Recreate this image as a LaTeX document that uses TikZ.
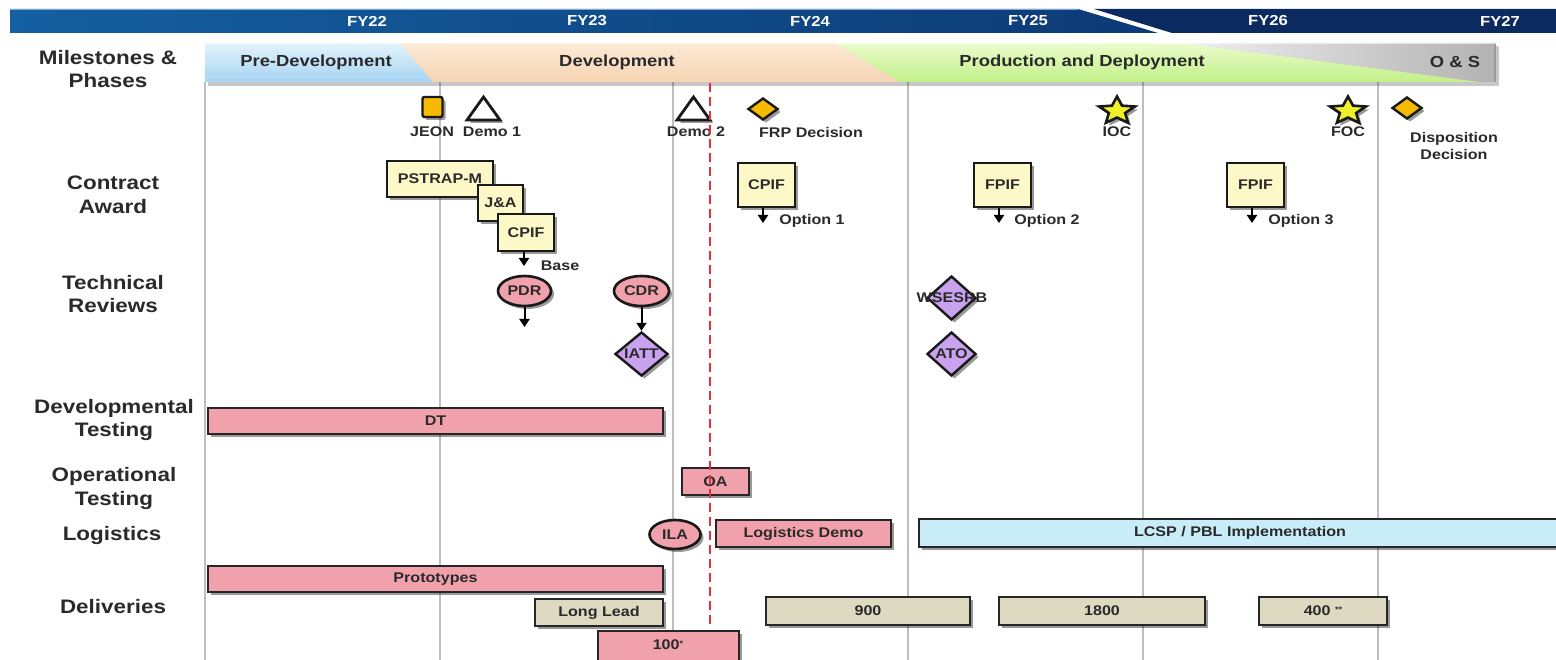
\documentclass[tikz,border=0pt]{standalone}
\usepackage{fontspec}
\setmainfont{Liberation Sans}[FakeStretch=1.15]
\usetikzlibrary{shapes.geometric,arrows.meta,shadows}
\definecolor{txt}{RGB}{42,42,42}
\definecolor{pinkf}{RGB}{241,161,171}
\definecolor{beigef}{RGB}{222,217,193}
\definecolor{yelbox}{RGB}{253,248,200}
\definecolor{lav}{RGB}{200,162,238}
\definecolor{orng}{RGB}{246,186,0}
\definecolor{staryel}{RGB}{240,240,40}
\definecolor{lblue}{RGB}{201,236,249}
\definecolor{barA}{RGB}{20,96,162}
\definecolor{barB}{RGB}{12,58,118}
\definecolor{navy}{RGB}{10,42,96}
\definecolor{predevT}{RGB}{226,243,252}
\definecolor{predevB}{RGB}{166,212,242}
\definecolor{devT}{RGB}{252,234,214}
\definecolor{devB}{RGB}{246,212,178}
\definecolor{prodT}{RGB}{234,252,204}
\definecolor{prodB}{RGB}{194,240,136}
\definecolor{gridc}{RGB}{190,190,190}
\definecolor{redd}{RGB}{228,48,60}
\newcommand\rowf{\fontsize{19.5}{23.5}\selectfont\bfseries}
\newcommand\phf{\fontsize{16}{19}\selectfont\bfseries}
\newcommand\fyf{\fontsize{14.5}{17}\selectfont\bfseries}
\newcommand\smf{\fontsize{14}{17}\selectfont\bfseries}
\newcommand\supast[1]{\raisebox{3.5pt}{\fontsize{8}{8}\selectfont #1}}
\tikzset{
  shad/.style={drop shadow={shadow xshift=3pt,shadow yshift=-3pt,opacity=.4,fill=black}},
  rowlab/.style={font=\rowf,text=txt,align=center,inner sep=0},
  mlab/.style={font=\smf,text=txt,align=center,inner sep=0},
  fylab/.style={font=\fyf,text=white,inner sep=0},
  phlab/.style={font=\phf,text=txt,inner sep=0},
  gridline/.style={draw=gridc,line width=1.3pt},
  cbox/.style={draw=black!90,line width=2.8pt,fill=yelbox,shad,font=\smf,text=txt,inner sep=0},
  bar/.style={draw=black!85,line width=2.8pt,shad,font=\smf,text=txt,inner sep=0},
  ell/.style={ellipse,draw=black!90,line width=2.6pt,fill=pinkf,shad,inner sep=0},
  dmd/.style={diamond,draw=black!90,line width=2.4pt,fill=lav,shad,inner sep=0},
  odmd/.style={diamond,draw=black!90,line width=2.4pt,fill=orng,shad,inner sep=0,minimum width=30,minimum height=22},
  tri/.style={draw=black!90,line width=2.8pt,fill=white,line join=miter},
  starsym/.style={star,star points=5,star point ratio=2.2,draw=black!90,line width=2.6pt,fill=staryel,shad,inner sep=0,minimum size=29,xscale=1.3,transform shape},
  arr/.style={line width=2pt,black,-{Triangle[width=10pt,length=8pt]}},
}
\begin{document}
\begin{tikzpicture}[x=1pt,y=-1pt]
\useasboundingbox (0,0) rectangle (1556,660);
\clip (0,0) rectangle (1556,660);
\fill[white] (0,0) rectangle (1556,660);

% ---------- top fiscal-year bar ----------
\shade[left color=barA,right color=barB] (10,9) -- (1078,9) -- (1158,33) -- (10,33) -- cycle;
\fill[navy] (1094,9) -- (1560,9) -- (1560,33) -- (1172,33) -- cycle;
\draw[barA!55!white,line width=0.8pt] (10,9.5) -- (1078,9.5);
\node[fylab] (fy22) at (367,21) {FY22};
\node[fylab] (fy23) at (587,21) {FY23};
\node[fylab] (fy24) at (810,21) {FY24};
\node[fylab] (fy25) at (1028,21) {FY25};
\node[fylab] (fy26) at (1268,21) {FY26};
\node[fylab] (fy27) at (1500,21) {FY27};

% ---------- grid lines ----------
\foreach \gx in {205,440,673,908,1143,1378}
  \draw[gridline] (\gx,82) -- (\gx,660);

% ---------- phase banner ----------
\fill[black,opacity=.22] (208,46) rectangle (1499,86);
\shade[top color=predevT,bottom color=predevB] (205,43) -- (400,43) -- (433,82) -- (205,82) -- cycle;
\shade[top color=devT,bottom color=devB] (400,43) -- (836,43) -- (900,82) -- (433,82) -- cycle;
\shade[top color=prodT,bottom color=prodB] (836,43) -- (1183,43) -- (1480,82) -- (900,82) -- cycle;
\shade[left color=black!6,right color=black!30] (1183,43) -- (1495,43) -- (1495,82) -- (1480,82) -- cycle;
\draw[black!40,line width=2pt] (1495,44) -- (1495,82);
\draw[white,opacity=.6,line width=1pt] (206,43.5) -- (1494,43.5);
\node[phlab] (pPre) at (316,62) {Pre-Development};
\node[phlab] (pDev) at (617,62) {Development};
\node[phlab] (pPro) at (1082,62) {Production and Deployment};
\node[phlab] (pOS) at (1455,62) {O \& S};

% ---------- row labels ----------
\node[rowlab] (rMil) at (108,69) {Milestones \&\\Phases};
\node[rowlab] (rCon) at (113,195) {Contract\\Award};
\node[rowlab] (rTec) at (113,294) {Technical\\Reviews};
\node[rowlab] (rDev) at (114,420) {Developmental\\Testing};
\node[rowlab] (rOpe) at (114,488.5) {Operational\\Testing};
\node[rowlab] (rLog) at (112,535) {Logistics};
\node[rowlab] (rDel) at (113,607) {Deliveries};

% ---------- milestones ----------
\node[draw=black!90,line width=2.4pt,fill=orng,rounded corners=2pt,minimum size=20,inner sep=0,shad] (jeon) at (432.5,107) {};
\node[mlab] (jeonL) at (432,132) {JEON};
\path[tri,shad] (483.5,97) -- (500,120) -- (467,120) -- cycle;
\node[mlab] (demo1L) at (492,132) {Demo 1};
\path[tri,shad] (693.5,97) -- (710,120) -- (677,120) -- cycle;
\node[mlab] (demo2L) at (696,132) {Demo 2};
\node[odmd] (frp) at (763,109) {};
\node[mlab] (frpL) at (811,132) {FRP Decision};
\node[starsym] (ioc) at (1117,111) {};
\node[mlab] (iocL) at (1117,132) {IOC};
\node[starsym] (foc) at (1348,111) {};
\node[mlab] (focL) at (1348,132) {FOC};
\node[odmd] (disp) at (1407,108) {};
\node[mlab] (dispL) at (1454,146) {Disposition\\Decision};

% ---------- contract award ----------
\node[cbox,minimum width=106,minimum height=36] (pstrap) at (440,179) {PSTRAP-M};
\node[cbox,minimum width=45,minimum height=36] (ja) at (500.5,203) {J\&A};
\node[cbox,minimum width=56,minimum height=37] (cpif0) at (526,232.5) {CPIF};
\coordinate (baseEnd) at (524,266);
\draw[arr] (cpif0.south -| baseEnd) -- (baseEnd);
\node[mlab] (baseL) at (560,266) {Base};

\node[cbox,minimum width=57,minimum height=44] (cpif1) at (766.5,185) {CPIF};
\coordinate (opt1End) at (763,223);
\draw[arr] (cpif1.south -| opt1End) -- (opt1End);
\node[mlab] (opt1L) at (812,221) {Option 1};

\node[cbox,minimum width=57,minimum height=44] (fpif2) at (1002.5,185) {FPIF};
\coordinate (opt2End) at (999,223);
\draw[arr] (fpif2.south -| opt2End) -- (opt2End);
\node[mlab] (opt2L) at (1047,221) {Option 2};

\node[cbox,minimum width=57,minimum height=44] (fpif3) at (1255.5,185) {FPIF};
\coordinate (opt3End) at (1252,223);
\draw[arr] (fpif3.south -| opt3End) -- (opt3End);
\node[mlab] (opt3L) at (1301,221) {Option 3};

% ---------- technical reviews ----------
\node[ell,minimum width=53,minimum height=30,font=\smf,text=txt] (pdr) at (524.5,291) {PDR};
\coordinate (pdrEnd) at (524.5,327);
\draw[arr] (pdr.south) -- (pdrEnd);
\node[ell,minimum width=55,minimum height=30,font=\smf,text=txt] (cdr) at (641.5,291) {CDR};
\node[dmd,minimum width=53,minimum height=44] (iatt) at (641.5,354) {};
\node[mlab] (iattL) at (641.5,354) {IATT};
\draw[arr] (cdr.south) -- (iatt.north);
\node[dmd,minimum width=49,minimum height=44] (wsesrb) at (951.5,298) {};
\node[mlab] (wsesrbL) at (952,298) {WSESRB};
\node[dmd,minimum width=49,minimum height=44] (ato) at (951.5,354) {};
\node[mlab] (atoL) at (951.5,354) {ATO};

% ---------- testing / logistics / deliveries ----------
\node[bar,fill=pinkf,minimum width=455,minimum height=26] (dt) at (435.5,421) {DT};
\node[bar,fill=pinkf,minimum width=67,minimum height=27] (oa) at (715.5,481.5) {OA};
\node[ell,minimum width=51,minimum height=29,font=\smf,text=txt] (ila) at (675,534.5) {ILA};
\node[bar,fill=pinkf,minimum width=175,minimum height=27] (logdemo) at (803.5,533.5) {Logistics Demo};
\node[bar,fill=lblue,minimum width=645,minimum height=28] (lcsp) at (1241.5,533) {};
\node[mlab] (lcspL) at (1240,533) {LCSP / PBL Implementation};
\node[bar,fill=pinkf,minimum width=455,minimum height=26] (proto) at (435.5,579) {Prototypes};
\node[bar,fill=beigef,minimum width=128,minimum height=27] (longlead) at (599,612.5) {Long Lead};
\node[bar,fill=beigef,minimum width=204,minimum height=28] (d900) at (868,611) {900};
\node[bar,fill=beigef,minimum width=206,minimum height=28] (d1800) at (1102,611) {1800};
\node[bar,fill=beigef,minimum width=128,minimum height=28] (d400) at (1323,611) {400 \supast{**}};
\node[bar,fill=pinkf,minimum width=141,minimum height=36] (d100) at (668.5,649) {};
\node[mlab] (d100L) at (668,645) {100\supast{*}};

% ---------- current-date dashed line ----------
\draw[draw=redd,line width=2.4pt,dash pattern=on 9pt off 5pt] (710,83) -- (710,628);
\end{tikzpicture}
\end{document}
